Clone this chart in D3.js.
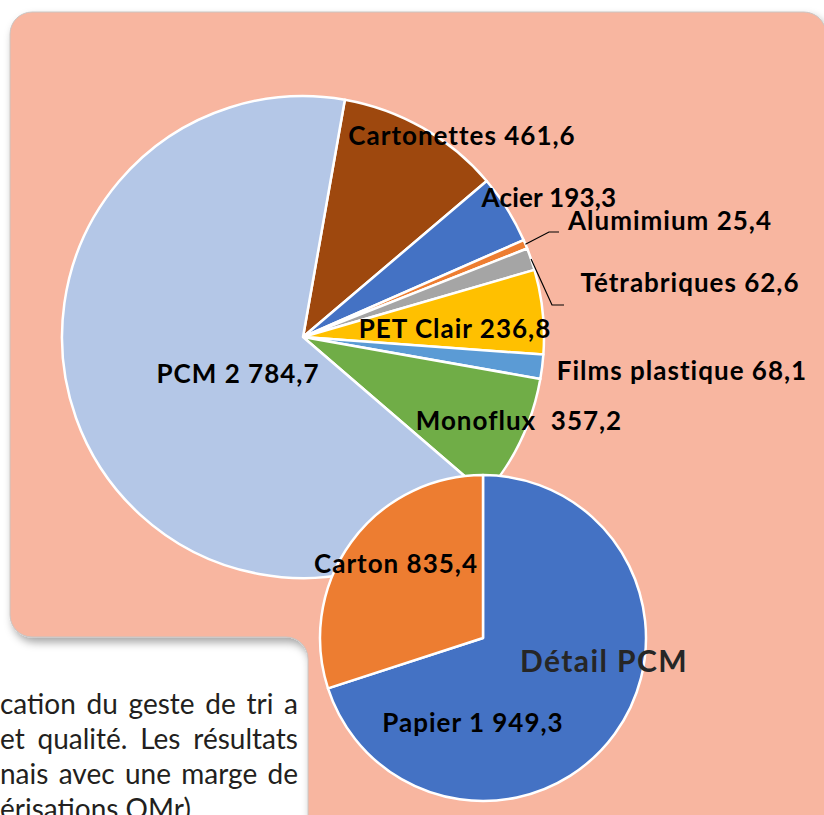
<!DOCTYPE html>
<html>
<head>
<meta charset="utf-8">
<script src="https://cdn.jsdelivr.net/npm/d3@7"></script>
<style>
  html, body { margin: 0; padding: 0; background: #fff; overflow: hidden; }
  svg { display: block; }
  text { font-family: Lato, "Open Sans", sans-serif; }
</style>
</head>
<body>
<svg id="chart" width="824" height="815"></svg>
<script>
// main pie : tonnages by material
const categories = ["Cartonettes", "Acier", "Alumimium", "Tétrabriques", "PET Clair", "Films plastique", "Monoflux", "PCM"];
const values = [461.6, 193.3, 25.4, 62.6, 236.8, 68.1, 357.2, 2784.7];
const valueLabels = ["461,6", "193,3", "25,4", "62,6", "236,8", "68,1", " 357,2", "2 784,7"];

// detail pie : PCM split
const pcmCategories = ["Papier", "Carton"];
const pcmValues = [1949.3, 835.4];
const pcmLabels = ["1 949,3", "835,4"];

const textLines = ["cation du geste de tri a", "et qualité. Les résultats", "nais avec une marge de", "érisations OMr)"];

const color = d3.scaleOrdinal()
  .domain(categories)
  .range(["#9E480E", "#4472C4", "#ED7D31", "#A5A5A5", "#FFC000", "#5B9BD5", "#70AD47", "#B4C7E7"]);
const pcmColor = d3.scaleOrdinal()
  .domain(pcmCategories)
  .range(["#4472C4", "#ED7D31"]);

// label placement (centre x, baseline y)
const labelAt = {
  "Cartonettes": [462, 145],
  "Acier": [549, 207],
  "Alumimium": [670, 230],
  "Tétrabriques": [690, 292],
  "PET Clair": [455, 338],
  "Films plastique": [682, 380],
  "Monoflux": [519, 430],
  "PCM": [238, 383],
  "Papier": [473, 732],
  "Carton": [396, 573]
};
// leader lines end points (elbow, end)
const leaders = {
  "Alumimium": [[549, 232], [559, 232]],
  "Tétrabriques": [[552, 305], [564, 305]]
};

const svg = d3.select("#chart");
const rad = d => d * Math.PI / 180;

// shadow for the panel
const defs = svg.append("defs");
const f = defs.append("filter").attr("id", "shadow")
  .attr("x", "-10%").attr("y", "-10%").attr("width", "130%").attr("height", "130%");
f.append("feDropShadow").attr("dx", 3).attr("dy", 5).attr("stdDeviation", 4)
  .attr("flood-color", "#000").attr("flood-opacity", 0.35);

// salmon panel : top block + lower right extension
const p = d3.path();
p.moveTo(10, 34);
p.arc(32, 34, 22, Math.PI, 1.5 * Math.PI);
p.lineTo(804, 12);
p.arc(804, 34, 22, 1.5 * Math.PI, 2 * Math.PI);
p.lineTo(826, 830);
p.lineTo(308, 830);
p.lineTo(308, 659);
p.arc(286, 659, 22, 0, -0.5 * Math.PI, true);
p.lineTo(32, 637);
p.arc(32, 615, 22, 0.5 * Math.PI, Math.PI);
p.closePath();

svg.append("path")
  .attr("d", p.toString())
  .attr("fill", "#F8B6A0")
  .attr("stroke", "#C9C4C2")
  .attr("stroke-width", 1)
  .attr("filter", "url(#shadow)");

// body text cut by the panel : justified to the column edge, last line left
const colRight = 298;
const body = svg.append("g").attr("fill", "#231F20").attr("font-size", 28);
body.selectAll("text")
  .data(textLines)
  .join("text")
  .attr("x", 0)
  .attr("y", (d, i) => 714 + i * 35)
  .text(d => d)
  .each(function(d, i) {
    if (i === textLines.length - 1) return;
    const w = this.getComputedTextLength();
    const spaces = d.split(" ").length - 1;
    d3.select(this).attr("word-spacing", (colRight - w) / spaces);
  });

// main pie
const cx = 303, cy = 337, r = 241;
const pie = d3.pie().sort(null).value(d => d.value)
  .startAngle(rad(10)).endAngle(rad(370));
const arc = d3.arc().innerRadius(0).outerRadius(r);
const mainData = pie(categories.map((c, i) => ({ name: c, value: values[i], label: valueLabels[i] })));

const gMain = svg.append("g").attr("transform", `translate(${cx},${cy})`);
gMain.selectAll("path")
  .data(mainData)
  .join("path")
  .attr("d", arc)
  .attr("fill", d => color(d.data.name))
  .attr("stroke", "#fff")
  .attr("stroke-width", 2.5)
  .attr("stroke-linejoin", "round");

// leader lines from the slice edge
mainData.filter(d => leaders[d.data.name]).forEach(d => {
  const a = (d.startAngle + d.endAngle) / 2;
  const start = [cx + r * Math.sin(a), cy - r * Math.cos(a)];
  svg.append("polyline")
    .attr("points", [start].concat(leaders[d.data.name]).map(q => q.join(",")).join(" "))
    .attr("fill", "none")
    .attr("stroke", "#000")
    .attr("stroke-width", 1.2);
});

// detail pie
const pcx = 483, pcy = 638, pr = 163;
const pie2 = d3.pie().sort(null).value(d => d.value);
const arc2 = d3.arc().innerRadius(0).outerRadius(pr);
const pcmData = pie2(pcmCategories.map((c, i) => ({ name: c, value: pcmValues[i], label: pcmLabels[i] })));

const gPcm = svg.append("g").attr("transform", `translate(${pcx},${pcy})`);
gPcm.selectAll("path")
  .data(pcmData)
  .join("path")
  .attr("d", arc2)
  .attr("fill", d => pcmColor(d.data.name))
  .attr("stroke", "#fff")
  .attr("stroke-width", 2.5)
  .attr("stroke-linejoin", "round");

// labels
const labels = mainData.concat(pcmData);
svg.append("g")
  .selectAll("text")
  .data(labels)
  .join("text")
  .attr("x", d => labelAt[d.data.name][0])
  .attr("y", d => labelAt[d.data.name][1])
  .attr("text-anchor", "middle")
  .attr("font-size", 26)
  .attr("font-weight", "bold")
  .attr("letter-spacing", d => d.data.name === "Acier" ? 0.2 : 1)
  .attr("fill", "#000")
  .style("white-space", "pre")
  .text(d => d.data.name + " " + d.data.label);

svg.append("text")
  .attr("x", 604)
  .attr("y", 672)
  .attr("text-anchor", "middle")
  .attr("font-size", 30)
  .attr("font-weight", "bold")
  .attr("letter-spacing", 1.4)
  .attr("fill", "#262626")
  .text("Détail PCM");
</script>
</body>
</html>
